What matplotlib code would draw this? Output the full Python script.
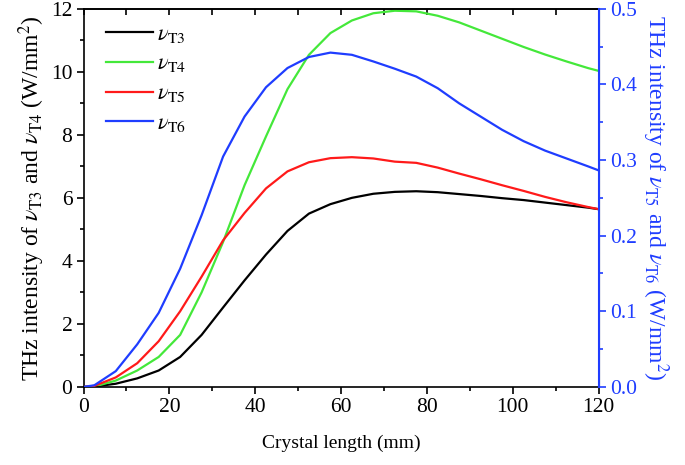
import matplotlib
matplotlib.use("Agg")
import matplotlib.pyplot as plt
from matplotlib.ticker import MultipleLocator, FormatStrFormatter

plt.rcParams['font.family'] = ['Liberation Serif', 'DejaVu Serif']
plt.rcParams['mathtext.fontset'] = 'stix'

length = [0, 2.5, 7.5, 12.5, 17.5, 22.5, 27.5, 32.5, 37.5, 42.5, 47.5, 52.5, 57.5, 62.5, 67.5,
          72.5, 77.5, 82.5, 87.5, 92.5, 97.5, 102.5, 107.5, 112.5, 117.5, 120]
vT3 = [0, 0.01, 0.10, 0.27, 0.52, 0.95, 1.65, 2.52, 3.38, 4.20, 4.95, 5.50, 5.80, 6.00, 6.13,
       6.19, 6.21, 6.18, 6.12, 6.06, 5.99, 5.93, 5.85, 5.77, 5.69, 5.64]
vT4 = [0, 0.01, 0.20, 0.52, 0.95, 1.65, 3.00, 4.60, 6.40, 7.95, 9.45, 10.54, 11.23, 11.63, 11.86,
       11.94, 11.92, 11.78, 11.57, 11.31, 11.05, 10.79, 10.55, 10.33, 10.12, 10.03]
vT5 = [0, 0.0013, 0.0125, 0.0313, 0.0604, 0.1000, 0.1458, 0.1938, 0.2300, 0.2625, 0.2850, 0.2971,
       0.3025, 0.3038, 0.3021, 0.2979, 0.2963, 0.2900, 0.2821, 0.2746, 0.2667, 0.2592, 0.2513,
       0.2442, 0.2379, 0.2350]
vT6 = [0, 0.0021, 0.0208, 0.0563, 0.0979, 0.1563, 0.2271, 0.3046, 0.3575, 0.3963, 0.4217, 0.4363,
       0.4421, 0.4392, 0.4304, 0.4208, 0.4104, 0.3950, 0.3750, 0.3575, 0.3400, 0.3250, 0.3125,
       0.3021, 0.2917, 0.2863]

BLUE = '#1f3dff'
GREEN = '#44e83a'
RED = '#ff1a1a'

fig = plt.figure(figsize=(6.85, 4.65), dpi=100)
ax = fig.add_axes([0.122, 0.168, 0.752, 0.813])
ax2 = ax.twinx()

lw = 1.6
l3, = ax.plot(length, vT3, color='black', lw=lw, label=r'$\nu_{\mathrm{T3}}$')
l4, = ax.plot(length, vT4, color=GREEN, lw=lw, label=r'$\nu_{\mathrm{T4}}$')
l5, = ax2.plot(length, vT5, color=RED, lw=lw, label=r'$\nu_{\mathrm{T5}}$')
l6, = ax2.plot(length, vT6, color=BLUE, lw=lw, label=r'$\nu_{\mathrm{T6}}$')

ax.set_xlim(0, 120)
ax.set_ylim(0, 12)
ax2.set_ylim(0, 0.5)

fs = 15.5
ax.xaxis.set_major_locator(MultipleLocator(20))
ax.xaxis.set_minor_locator(MultipleLocator(10))
ax.yaxis.set_major_locator(MultipleLocator(2))
ax.yaxis.set_minor_locator(MultipleLocator(1))
ax2.yaxis.set_major_locator(MultipleLocator(0.1))
ax2.yaxis.set_minor_locator(MultipleLocator(0.05))
ax2.yaxis.set_major_formatter(FormatStrFormatter('%.1f'))

ax.tick_params(axis='both', which='major', direction='out', length=5, width=1.2, labelsize=fs, pad=3)
ax.tick_params(axis='both', which='minor', direction='out', length=3, width=1.2)
ax.tick_params(axis='y', which='both', right=False)
ax2.tick_params(axis='y', which='major', direction='out', length=5, width=1.2, labelsize=fs,
                colors=BLUE, pad=3)
ax2.tick_params(axis='y', which='minor', direction='out', length=3, width=1.2, colors=BLUE)

top = ax.secondary_xaxis('top')
top.xaxis.set_major_locator(MultipleLocator(10))
top.tick_params(axis='x', which='major', direction='in', length=4, width=1.2, labeltop=False)
top.spines['top'].set_linewidth(1.2)

for s in ['left', 'bottom', 'top']:
    ax.spines[s].set_linewidth(1.2)
ax2.spines['right'].set_color(BLUE)
ax2.spines['right'].set_linewidth(1.5)
for s in ['left', 'bottom', 'top']:
    ax2.spines[s].set_visible(False)

ax.set_xlabel('Crystal length (mm)', fontsize=14, labelpad=13)
ax.set_ylabel(r'THz intensity of $\nu_{\mathrm{T3}}$ and $\nu_{\mathrm{T4}}$ (W/mm$^{2}$)', fontsize=17,
              labelpad=3)
ax2.set_ylabel(r'THz intensity of $\nu_{\mathrm{T5}}$ and $\nu_{\mathrm{T6}}$ (W/mm$^{2}$)', fontsize=17,
               color=BLUE, rotation=270, labelpad=24)

leg = ax.legend(handles=[l3, l4, l5, l6], loc='upper left', frameon=False, fontsize=16,
                handlelength=2.1, handletextpad=0.2, labelspacing=0.42,
                borderpad=0, borderaxespad=0, bbox_to_anchor=(0.044, 0.96))

fig.savefig('out.png', dpi=100)
